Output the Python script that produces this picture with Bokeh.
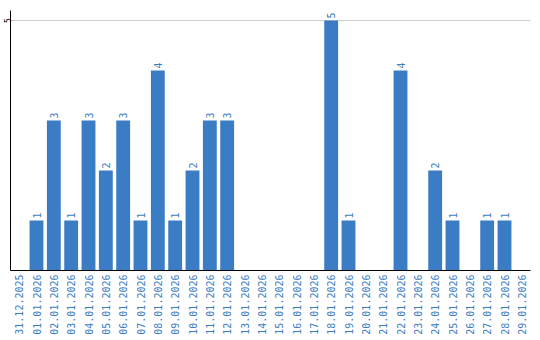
import math
from bokeh.plotting import figure
from bokeh.models import ColumnDataSource, FactorRange, Range1d, FixedTicker
from bokeh.core.properties import value
from bokeh.embed import file_html
from bokeh.resources import INLINE

dates = ["31.12.2025", "01.01.2026", "02.01.2026", "03.01.2026", "04.01.2026",
         "05.01.2026", "06.01.2026", "07.01.2026", "08.01.2026", "09.01.2026",
         "10.01.2026", "11.01.2026", "12.01.2026", "13.01.2026", "14.01.2026",
         "15.01.2026", "16.01.2026", "17.01.2026", "18.01.2026", "19.01.2026",
         "20.01.2026", "21.01.2026", "22.01.2026", "23.01.2026", "24.01.2026",
         "25.01.2026", "26.01.2026", "27.01.2026", "28.01.2026", "29.01.2026"]
counts = [0, 1, 3, 1, 3, 2, 3, 1, 4, 1, 2, 3, 3, 0, 0, 0, 0, 0, 5, 1,
          0, 0, 4, 0, 2, 1, 0, 1, 1, 0]
y_ticks = [5]

BLUE = "#3a7dc4"

src = ColumnDataSource(dict(d=dates, v=counts))
lab = ColumnDataSource(dict(d=[d for d, c in zip(dates, counts) if c > 0],
                            v=[c for c in counts if c > 0],
                            t=[str(c) for c in counts if c > 0]))

p = figure(width=540, height=340, x_range=FactorRange(factors=dates, range_padding=0),
           y_range=Range1d(0, 5.2), output_backend="svg", toolbar_location=None,
           min_border_left=0, min_border_right=10, min_border_top=10, min_border_bottom=70)
p.outline_line_color = None
p.background_fill_color = "white"
p.border_fill_color = "white"

p.vbar(x="d", top="v", width=0.8, source=src, fill_color=BLUE, line_color=None)
p.text(x="d", y="v", text="t", source=lab, angle=math.pi / 2, text_align="left",
       text_baseline="middle", y_offset=-2, text_color=BLUE, text_font_size="10px",
       text_font=value("DejaVu Sans Mono"))

p.xgrid.grid_line_color = None
p.ygrid.ticker = FixedTicker(ticks=y_ticks)
p.ygrid.grid_line_color = "#cccccc"
p.ygrid.grid_line_width = 1

p.yaxis.ticker = FixedTicker(ticks=y_ticks)
p.yaxis.major_tick_line_color = None
p.yaxis.minor_tick_line_color = None
p.yaxis.major_tick_out = 0
p.yaxis.major_tick_in = 0
p.yaxis.major_label_standoff = 0
p.yaxis.major_label_orientation = "vertical"
p.yaxis.major_label_text_font_size = "8px"
p.yaxis.major_label_text_color = "black"
p.yaxis.major_label_text_font = "DejaVu Sans Mono"
p.yaxis.axis_line_color = "black"

p.xaxis.major_tick_line_color = None
p.xaxis.minor_tick_line_color = None
p.xaxis.major_tick_out = 0
p.xaxis.major_tick_in = 0
p.xaxis.major_label_standoff = 4
p.xaxis.major_label_orientation = math.pi / 2
p.xaxis.major_label_text_font_size = "10px"
p.xaxis.major_label_text_color = BLUE
p.xaxis.major_label_text_font = "DejaVu Sans Mono"
p.xaxis.axis_line_color = "black"

open("out.html", "w").write(file_html(p, INLINE))
